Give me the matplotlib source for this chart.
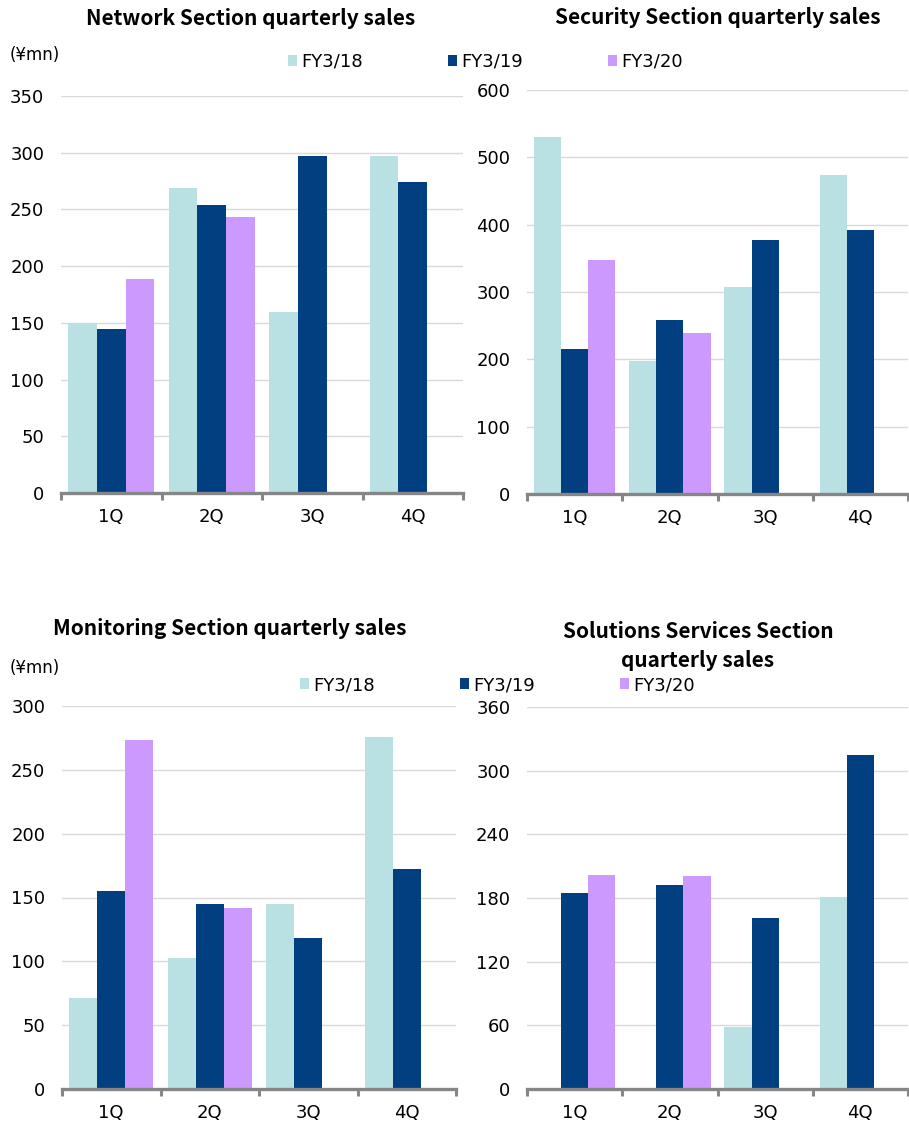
import numpy as np
import matplotlib
matplotlib.use("Agg")
import matplotlib.pyplot as plt

plt.rcParams['font.family'] = ['DejaVu Sans', 'Noto Sans CJK JP']

quarters = ["1Q", "2Q", "3Q", "4Q"]
series_names = ["FY3/18", "FY3/19", "FY3/20"]
colors = ["#B9E0E3", "#023F80", "#CC99FF"]
nan = np.nan

network_fy18 = [150, 269, 160, 297]
network_fy19 = [145, 254, 297, 274]
network_fy20 = [189, 243, nan, nan]

security_fy18 = [530, 197, 308, 474]
security_fy19 = [215, 259, 377, 392]
security_fy20 = [348, 239, nan, nan]

monitoring_fy18 = [71, 103, 145, 276]
monitoring_fy19 = [155, 145, 118, 172]
monitoring_fy20 = [273, 142, nan, nan]

solutions_fy18 = [nan, nan, 58, 181]
solutions_fy19 = [185, 192, 161, 315]
solutions_fy20 = [202, 201, nan, nan]

W, H = 909, 1144
fig = plt.figure(figsize=(W / 100, H / 100), dpi=100)


def ax_at(left, right, top, bottom):
    return fig.add_axes([left / W, 1 - bottom / H, (right - left) / W, (bottom - top) / H])


def draw(ax, data, ymax, step):
    x = np.arange(len(quarters))
    bw = 0.285
    handles = []
    for i, (vals, c) in enumerate(zip(data, colors)):
        h = ax.bar(x + (i - 1) * bw, np.array(vals, dtype=float), bw, color=c,
                   linewidth=0, label=series_names[i], zorder=2)
        handles.append(h)
    ax.set_xlim(-0.5, 3.5)
    ax.set_ylim(0, ymax)
    ax.set_yticks(np.arange(0, ymax + 1, step))
    ax.set_xticks(x)
    ax.set_xticklabels(quarters, fontsize=13)
    ax.set_xticks(np.arange(-0.5, 4, 1), minor=True)
    ax.tick_params(axis='x', which='major', length=0, pad=11)
    ax.tick_params(axis='x', which='minor', length=5, width=2.2, color="#868686", direction='out')
    ax.tick_params(axis='y', length=0, pad=12, labelsize=13)
    for s in ['top', 'right', 'left']:
        ax.spines[s].set_visible(False)
    ax.spines['bottom'].set_color("#868686")
    ax.spines['bottom'].set_linewidth(2.4)
    ax.spines['bottom'].set_zorder(3)
    ax.yaxis.grid(True, color="#D9D9D9", linewidth=1.0, zorder=0)
    ax.set_axisbelow(True)
    return handles


ax1 = ax_at(61, 463, 96, 493)
h = draw(ax1, [network_fy18, network_fy19, network_fy20], 350, 50)
ax2 = ax_at(527, 908, 90, 494)
draw(ax2, [security_fy18, security_fy19, security_fy20], 600, 100)
ax3 = ax_at(62, 456, 706, 1089)
draw(ax3, [monitoring_fy18, monitoring_fy19, monitoring_fy20], 300, 50)
ax4 = ax_at(527, 908, 707, 1089)
draw(ax4, [solutions_fy18, solutions_fy19, solutions_fy20], 360, 60)

tkw = dict(fontsize=15, fontweight='bold', ha='center', va='baseline',
           family=['Noto Sans CJK JP', 'DejaVu Sans'])
fig.text(251 / W, 1 - 25 / H, "Network Section quarterly sales", **tkw)
fig.text(718 / W, 1 - 24 / H, "Security Section quarterly sales", **tkw)
fig.text(230 / W, 1 - 635 / H, "Monitoring Section quarterly sales", **tkw)
fig.text(698 / W, 1 - 638 / H, "Solutions Services Section", **tkw)
fig.text(698 / W, 1 - 667 / H, "quarterly sales", **tkw)

fig.text(10 / W, 1 - 60 / H, "(¥mn)", fontsize=12, ha='left', va='baseline')
fig.text(10 / W, 1 - 673 / H, "(¥mn)", fontsize=12, ha='left', va='baseline')

lkw = dict(ncol=3, frameon=False, fontsize=13, handlelength=0.5, handleheight=0.5,
           handletextpad=0.25, columnspacing=4.7, borderpad=0, borderaxespad=0,
           loc='center left')
fig.legend(handles=h, labels=series_names, bbox_to_anchor=(288 / W, 1 - 62 / H), **lkw)
fig.legend(handles=h, labels=series_names, bbox_to_anchor=(300 / W, 1 - 685 / H), **lkw)

fig.savefig("out.png", dpi=100)
